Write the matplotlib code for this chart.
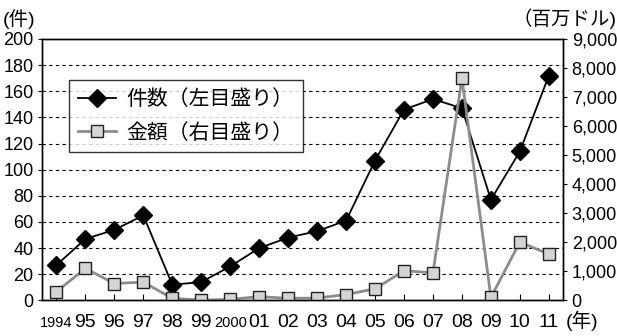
import matplotlib
matplotlib.use('Agg')
import matplotlib.pyplot as plt
from matplotlib.lines import Line2D
from matplotlib.transforms import blended_transform_factory

plt.rcParams['font.family'] = ['Liberation Sans', 'Noto Sans CJK JP']

years = ['1994', '95', '96', '97', '98', '99', '2000', '01', '02', '03',
         '04', '05', '06', '07', '08', '09', '10', '11']
counts = [27, 47, 54, 65, 12, 14, 26, 40, 48, 53,
          61, 107, 146, 154, 147, 77, 114, 172]
amounts = [300, 1100, 580, 630, 70, 10, 35, 130, 70, 80,
           200, 400, 1020, 950, 7650, 100, 2010, 1590]

x = list(range(len(years)))

fig = plt.figure(figsize=(6.17, 3.36), dpi=100)
ax = fig.add_axes([0.068, 0.106, 0.845, 0.778])
ax2 = ax.twinx()

ax.plot(x, counts, color='black', lw=1.3, marker='D', ms=9.5,
        mfc='black', mec='black')
ax2.plot(x, amounts, color='#8c8c8c', lw=2.0, marker='s', ms=9,
         mfc='#d4d4d4', mec='#222222', mew=1.0)

ax.set_xlim(-0.5, len(years) - 0.5)
ax.set_ylim(0, 200)
ax2.set_ylim(0, 9000)
ax.set_yticks(range(0, 201, 20))
ax2.set_yticks(range(0, 9001, 1000))
ax2.set_yticklabels(['0'] + [f'{v:,}' for v in range(1000, 9001, 1000)])

for v in range(20, 200, 20):
    ax.axhline(v, color='black', lw=0.8, ls=(0, (3, 3)), zorder=0)

# x labels drawn as text so the small 1994/2000 share a baseline
ax.set_xticks(x)
ax.set_xticklabels([])
ax.tick_params(axis='x', direction='in', length=4)
trans = blended_transform_factory(ax.transData, ax.transAxes)
for i, yr in zip(x, years):
    size = 10.5 if yr in ('1994', '2000') else 14
    ax.text(i, -0.101, yr, transform=trans, fontsize=size,
            ha='center', va='baseline')
ax.text(len(years) - 0.42, -0.101, '(年)', transform=trans, fontsize=14,
        ha='left', va='baseline')

ax.tick_params(axis='y', labelsize=13, length=3, pad=3)
ax2.tick_params(axis='y', labelsize=13, length=3, pad=3)

for a in (ax, ax2):
    for s in a.spines.values():
        s.set_linewidth(1.0)

handles = [
    Line2D([], [], color='black', lw=1.3, marker='D', ms=9.5, mfc='black'),
    Line2D([], [], color='#8c8c8c', lw=2.0, marker='s', ms=9,
           mfc='#d4d4d4', mec='#222222'),
]
leg = ax2.legend(handles, ['件数（左目盛り）', '金額（右目盛り）'],
                 loc='upper left', bbox_to_anchor=(0.052, 0.843),
                 borderaxespad=0, fancybox=False, edgecolor='black',
                 fontsize=15, handlelength=1.8, handletextpad=0.5,
                 borderpad=0.45, labelspacing=0.65)
leg.get_frame().set_linewidth(1.0)

fig.text(0.005, 0.927, '(件)', fontsize=14, va='baseline', ha='left')
fig.text(0.999, 0.927, '（百万ドル)', fontsize=14, va='baseline', ha='right')

plt.savefig('out.png', dpi=100)
plt.close()
